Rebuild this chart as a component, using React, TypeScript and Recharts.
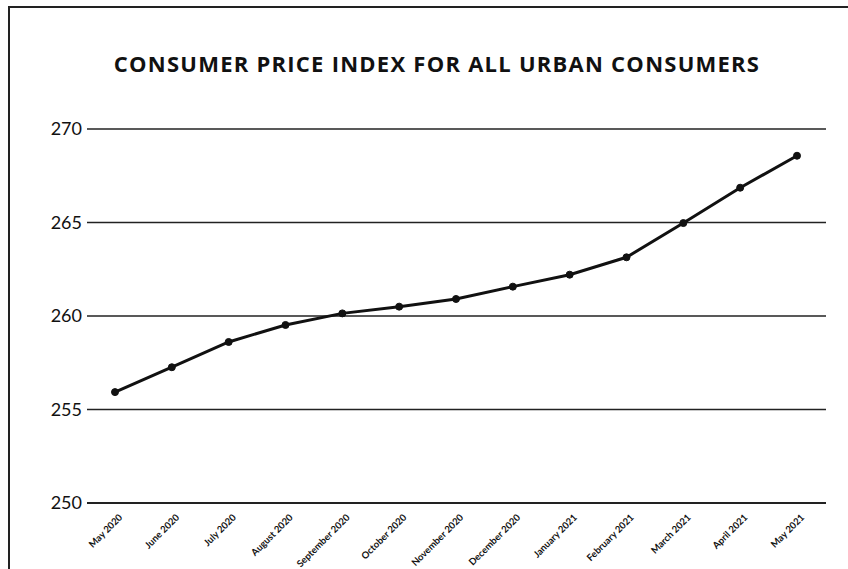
import React from "react";
import { LineChart, Line, XAxis, YAxis, CartesianGrid } from "recharts";

const months = [
  "May 2020",
  "June 2020",
  "July 2020",
  "August 2020",
  "September 2020",
  "October 2020",
  "November 2020",
  "December 2020",
  "January 2021",
  "February 2021",
  "March 2021",
  "April 2021",
  "May 2021",
];

const cpiValues = [
  255.93, 257.26, 258.61, 259.52, 260.14, 260.5, 260.91, 261.57, 262.21,
  263.14, 264.97, 266.86, 268.57,
];

const yTicks = [250, 255, 260, 265, 270];

const title = "CONSUMER PRICE INDEX FOR ALL URBAN CONSUMERS";

const data = months.map((m, i) => ({ month: m, cpi: cpiValues[i] }));

const XTick = (props: any) => {
  const { x, y, payload } = props;
  return (
    <g transform={`translate(${x + 8},${y + 15})`}>
      <text
        textAnchor="end"
        transform="rotate(-45)"
        fontSize={9.5}
        fontWeight={700}
        fontFamily="Lato, sans-serif"
        fill="#111"
      >
        {payload.value}
      </text>
    </g>
  );
};

export default function App() {
  return (
    <div
      style={{
        position: "absolute",
        left: 0,
        top: 0,
        width: 848,
        height: 569,
        background: "#fff",
        overflow: "hidden",
      }}
    >
      <div
        style={{
          position: "absolute",
          left: 8,
          top: 6,
          width: 840,
          height: 2,
          background: "#222",
        }}
      />
      <div
        style={{
          position: "absolute",
          left: 8,
          top: 6,
          width: 2,
          height: 563,
          background: "#222",
        }}
      />
      <div
        style={{
          position: "absolute",
          left: 0,
          width: 874,
          top: 52,
          textAlign: "center",
          fontFamily: "'Open Sans', sans-serif",
          fontWeight: 700,
          fontSize: 22,
          lineHeight: "22px",
          letterSpacing: 1.25,
          color: "#111",
          whiteSpace: "nowrap",
        }}
      >
        {title}
      </div>
      <div style={{ position: "absolute", left: 0, top: 0 }}>
        <LineChart
          width={848}
          height={569}
          data={data}
          margin={{ top: 129, right: 22, bottom: 0, left: 0 }}
        >
          <CartesianGrid
            vertical={false}
            horizontal={true}
            stroke="#222"
            strokeWidth={1.5}
          />
          <XAxis
            dataKey="month"
            interval={0}
            height={66}
            padding={{ left: 28, right: 29 }}
            axisLine={{ stroke: "#222", strokeWidth: 2 }}
            tickLine={false}
            tickSize={0}
            tickMargin={0}
            tick={<XTick />}
          />
          <YAxis
            domain={[250, 270]}
            ticks={yTicks}
            width={87}
            axisLine={false}
            tickLine={false}
            tickSize={0}
            tickMargin={5}
            tick={{
              fontSize: 18,
              fontFamily: "Lato, sans-serif",
              fill: "#111",
            }}
          />
          <Line
            type="linear"
            dataKey="cpi"
            stroke="#111"
            strokeWidth={3}
            dot={{ r: 3.5, fill: "#111", stroke: "#111", strokeWidth: 1 }}
            isAnimationActive={false}
          />
        </LineChart>
      </div>
    </div>
  );
}
